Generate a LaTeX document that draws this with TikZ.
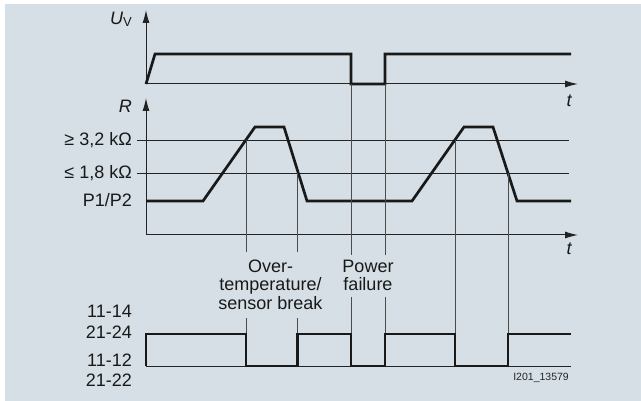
\documentclass[tikz,border=0pt]{standalone}
\usepackage{fontspec}
\setmainfont{Liberation Sans}
\usetikzlibrary{arrows.meta}
\definecolor{bg}{RGB}{213,223,229}
\definecolor{thinc}{RGB}{35,35,35}
\definecolor{vlinec}{RGB}{75,75,75}
\begin{document}
\begin{tikzpicture}[x=1pt,y=-1pt,
  lbl/.style={inner sep=0pt, font=\fontsize{18pt}{18pt}\selectfont, text=black!90},
  axisl/.style={line width=1pt, thinc, -{Latex[length=13pt,width=7pt]}},
  thinl/.style={line width=0.9pt, thinc},
  vl/.style={line width=0.9pt, vlinec},
  sig/.style={line width=2.7pt, black!90, line join=miter}]
\useasboundingbox (0,0) rectangle (641,401);
\fill[bg] (5,4) rectangle (641,401);

% ---------- U_V diagram ----------
\coordinate (uo) at (146,84);
\coordinate (utop) at (146,10);
\coordinate (uend) at (578,84);
\draw[axisl] (uo) -- (utop);
\draw[axisl] (uo) -- (uend);
\draw[sig] (uo) -- (155,54) -- (351,54) -- (351,84) -- (385,84) -- (385,54) -- (571,54);
\node[lbl, anchor=base east] (uvlbl) at (132,25) {\textit{U}\raisebox{-0.2ex}{\fontsize{13pt}{13pt}\selectfont V}};
\node[lbl, anchor=base] (t1) at (569.5,107) {\textit{t}};

% ---------- R diagram ----------
\coordinate (ro) at (146,235);
\coordinate (rtop) at (146,98);
\coordinate (rend) at (578,235);
\draw[axisl] (ro) -- (rtop);
\draw[axisl] (ro) -- (rend);
\draw[thinl] (137,140) -- (569,140);
\draw[thinl] (137,173) -- (569,173);
\draw[sig] (146,201) -- (203,201) -- (255,127) -- (284,127) -- (307,201) -- (412,201)
  -- (464,127) -- (493,127) -- (517,201) -- (571,201);
\node[lbl, anchor=base east] (rlbl) at (132,113) {\textit{R}};
\node[lbl, anchor=base east] (l32) at (132,145.5) {≥ 3,2 kΩ};
\node[lbl, anchor=base east] (l18) at (132,178.5) {≤ 1,8 kΩ};
\node[lbl, anchor=base east] (lp) at (132,206.5) {P1/P2};
\node[lbl, anchor=base] (t2) at (569.5,255) {\textit{t}};

% ---------- vertical guide lines ----------
\draw[vl] (246,140) -- (246,252) (246,318) -- (246,334);
\draw[vl] (297.5,173) -- (297.5,252) (297.5,318) -- (297.5,334);
\draw[vl] (351,84) -- (351,255) (351,297) -- (351,334);
\draw[vl] (385,84) -- (385,255) (385,297) -- (385,334);
\draw[vl] (455,140) -- (455,334);
\draw[vl] (508,173) -- (508,334);

% ---------- annotations ----------
\node[lbl, anchor=base] (ov1) at (270.5,272.7) {Over-};
\node[lbl, anchor=base] (ov2) at (270.5,290.7) {temperature/};
\node[lbl, anchor=base] (ov3) at (270.5,309) {sensor break};
\node[lbl, anchor=base] (pf1) at (368,272.7) {Power};
\node[lbl, anchor=base] (pf2) at (368,290.7) {failure};

% ---------- contact diagram ----------
\draw[thinl] (146,366) -- (571,366);
\draw[sig] (146,366) -- (146,334) -- (246,334) -- (246,366) -- (297.5,366) -- (297.5,334)
  -- (351,334) -- (351,366) -- (385,366) -- (385,334) -- (455,334) -- (455,366)
  -- (508,366) -- (508,334) -- (571,334);
\node[lbl, anchor=base east] (c1) at (132,317.7) {11-14};
\node[lbl, anchor=base east] (c2) at (132,338.3) {21-24};
\node[lbl, anchor=base east] (c3) at (132,366.7) {11-12};
\node[lbl, anchor=base east] (c4) at (132,386.7) {21-22};
\node[inner sep=0pt, anchor=base east, font=\fontsize{10.5pt}{11pt}\selectfont, text=black!85] (id) at (569,380.5) {I201\_13579};
\end{tikzpicture}
\end{document}
